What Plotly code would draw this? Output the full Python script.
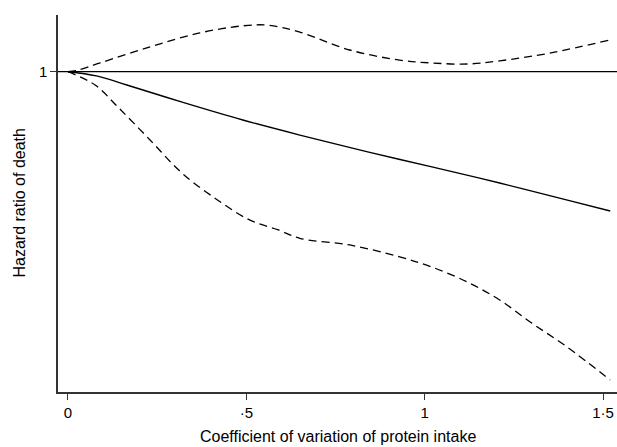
import plotly.graph_objects as go

# Coefficient of variation of protein intake (x positions of read points)
x_upper = [0.0, 0.03, 0.09, 0.23, 0.37, 0.49, 0.56, 0.65, 0.79, 0.93, 1.02, 1.12, 1.21, 1.35, 1.52]
hr_upper = [1.000, 1.005, 1.025, 1.071, 1.111, 1.131, 1.133, 1.113, 1.062, 1.033, 1.025, 1.022, 1.031, 1.053, 1.091]

x_est = [0.0, 0.08, 0.165, 0.32, 0.49, 0.65, 0.84, 1.02, 1.21, 1.40, 1.52]
hr_est = [1.000, 0.988, 0.962, 0.913, 0.862, 0.819, 0.771, 0.728, 0.682, 0.633, 0.602]

x_lower = [0.0, 0.076, 0.14, 0.23, 0.32, 0.42, 0.51, 0.59, 0.65, 0.79, 0.93, 1.02, 1.12, 1.21, 1.30, 1.40, 1.52]
hr_lower = [1.000, 0.962, 0.899, 0.805, 0.710, 0.633, 0.576, 0.548, 0.524, 0.505, 0.471, 0.442, 0.399, 0.348, 0.282, 0.213, 0.119]

x_tickvals = [0, 0.5, 1, 1.5]
x_ticktext = ["0", "·5", "1", "1·5"]
y_tickvals = [1]
y_ticktext = ["1"]

reference_hr = 1.0
x_title = "Coefficient of variation of protein intake"
y_title = "Hazard ratio of death"

fig = go.Figure()
fig.add_trace(go.Scatter(x=x_upper, y=hr_upper, mode="lines", line=dict(color="black", width=1.3, dash="8px,5px", shape="spline"), showlegend=False))
fig.add_trace(go.Scatter(x=x_est, y=hr_est, mode="lines", line=dict(color="black", width=1.4, shape="spline"), showlegend=False))
fig.add_trace(go.Scatter(x=x_lower, y=hr_lower, mode="lines", line=dict(color="black", width=1.3, dash="8px,5px", shape="spline"), showlegend=False))
fig.add_hline(y=reference_hr, line=dict(color="black", width=1.3))

font = dict(family="Liberation Sans, Arial, sans-serif", size=15, color="black")
fig.update_layout(
    width=617, height=447,
    margin=dict(l=58, r=0, t=15, b=55, autoexpand=False),
    paper_bgcolor="white", plot_bgcolor="white",
    font=font,
    xaxis=dict(range=[-0.028, 1.539], tickvals=x_tickvals, ticktext=x_ticktext, automargin=False,
               showgrid=False, zeroline=False, showline=True, linecolor="#333", linewidth=1.5,
               ticks="outside", ticklen=6, tickcolor="#333", tickwidth=1.3, tickfont=dict(size=15)),
    yaxis=dict(range=[0.085, 1.162], tickvals=y_tickvals, ticktext=y_ticktext, automargin=False,
               showgrid=False, zeroline=False, showline=True, linecolor="#333", linewidth=1.5,
               ticks="outside", ticklen=6, tickcolor="#333", tickwidth=1.3, tickfont=dict(size=15)),
    annotations=[
        dict(text=x_title, xref="paper", yref="paper", x=0.5, y=0, yshift=-44,
             xanchor="center", yanchor="middle", showarrow=False, font=dict(size=16)),
        dict(text=y_title, xref="paper", yref="paper", x=0, xshift=-39, y=0.5,
             xanchor="center", yanchor="middle", textangle=-90, showarrow=False, font=dict(size=16)),
    ],
)
fig.write_html("out.html", config={"displayModeBar": False},
               post_script="document.body.style.margin='0px';")
